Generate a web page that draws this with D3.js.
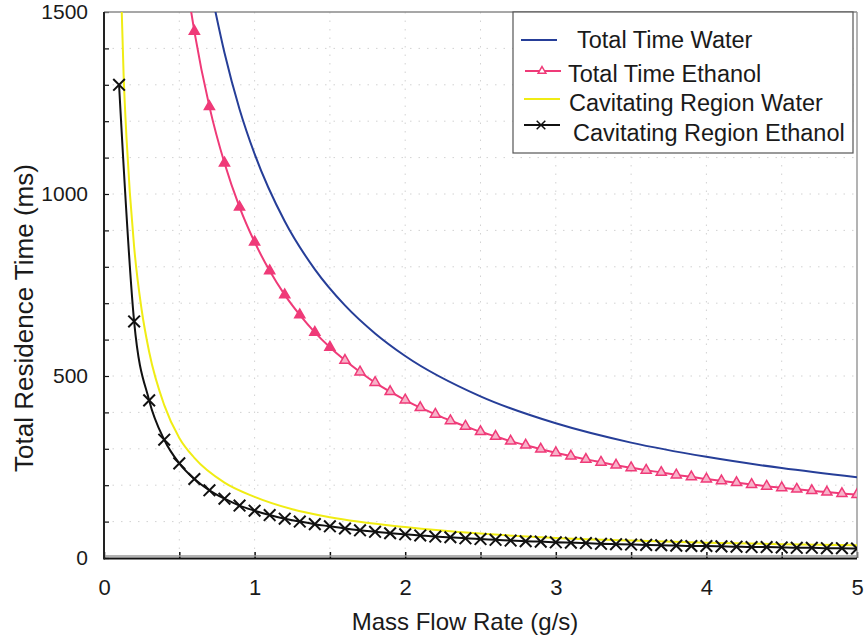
<!DOCTYPE html>
<html lang="en">
	<head>
		<meta charset="UTF-8" />
		<title>Total Residence Time</title>
		<style>
			body { margin: 0; background: #fff; }
			svg text { font-family: 'Liberation Sans', Arial, sans-serif; fill: #1a1a1a; }
		</style>
	</head>
	<body>
		<div id="chart"></div>
		<script src="https://cdnjs.cloudflare.com/ajax/libs/d3/7.8.5/d3.min.js"></script>
		<script>
			// values
			var totalWaterX = [0.72, 0.8, 0.9, 1, 1.2, 1.4, 1.6, 1.8, 2, 2.5, 3, 3.5, 4, 4.5, 5];
			var totalWaterMs = [1540, 1388, 1233, 1110, 925, 793, 694, 617, 555, 444, 370, 317, 278, 247, 222];

			// first point is where the curve leaves the top of the frame (no marker there)
			var totalEthanolX = [0.57, 0.6, 0.7, 0.8, 0.9, 1.0, 1.1, 1.2, 1.3, 1.4, 1.5, 1.6, 1.7, 1.8, 1.9, 2.0,
				2.1, 2.2, 2.3, 2.4, 2.5, 2.6, 2.7, 2.8, 2.9, 3.0, 3.1, 3.2, 3.3, 3.4, 3.5, 3.6, 3.7, 3.8, 3.9, 4.0,
				4.1, 4.2, 4.3, 4.4, 4.5, 4.6, 4.7, 4.8, 4.9, 5.0];
			var totalEthanolMs = [1523, 1447, 1240, 1085, 964, 868, 789, 723, 668, 620, 579, 543, 511, 482, 457, 434,
				413, 395, 377, 362, 347, 334, 321, 310, 299, 289, 280, 271, 263, 255, 248, 241, 235, 228, 223, 217,
				212, 207, 202, 197, 193, 189, 185, 181, 177, 174];

			var cavWaterX = [0.115, 0.13, 0.15, 0.2, 0.25, 0.3, 0.4, 0.5, 0.6, 0.8, 1, 1.25, 1.5, 2, 2.5, 3, 3.5, 4, 4.5, 5];
			var cavWaterMs = [1540, 1330, 1150, 855, 682, 566, 420, 330, 275, 207, 168, 134, 112, 85, 67, 55, 48, 42, 38, 35];

			var cavEthanolX = [0.1, 0.2, 0.3, 0.4, 0.5, 0.6, 0.7, 0.8, 0.9, 1.0, 1.1, 1.2, 1.3, 1.4, 1.5, 1.6, 1.7,
				1.8, 1.9, 2.0, 2.1, 2.2, 2.3, 2.4, 2.5, 2.6, 2.7, 2.8, 2.9, 3.0, 3.1, 3.2, 3.3, 3.4, 3.5, 3.6, 3.7,
				3.8, 3.9, 4.0, 4.1, 4.2, 4.3, 4.4, 4.5, 4.6, 4.7, 4.8, 4.9, 5.0];
			var cavEthanolMs = [1300, 650, 433, 325, 260, 217, 186, 163, 144, 130, 118, 108, 100, 93, 87, 81, 76,
				72, 68, 65, 62, 59, 57, 54, 52, 50, 48, 46, 45, 43, 42, 41, 39, 38, 37, 36, 35,
				34, 33, 33, 32, 31, 30, 30, 29, 28, 28, 27, 27, 26];

			var seriesNames = ['Total Time Water', 'Total Time Ethanol', 'Cavitating Region Water', 'Cavitating Region Ethanol'];

			var xTicks = [0, 0.5, 1, 1.5, 2, 2.5, 3, 3.5, 4, 4.5, 5];
			var xTickLabels = ['0', '', '1', '', '2', '', '3', '', '4', '', '5'];
			var yTicks = [0, 100, 200, 300, 400, 500, 600, 700, 800, 900, 1000, 1100, 1200, 1300, 1400, 1500];
			var yTickLabels = ['0', '', '', '', '', '500', '', '', '', '', '1000', '', '', '', '', '1500'];

			var width = 864;
			var height = 641;
			var plotLeft = 104, plotRight = 857, plotTop = 12, plotBottom = 558;

			var blue = '#263e98';
			var pink = '#ef3a78';
			var yellow = '#f0ec14';

			var svg = d3
				.select('#chart')
				.append('svg')
				.attr('width', width)
				.attr('height', height);

			var x = d3.scaleLinear().domain([0, 5]).range([plotLeft, plotRight]);
			var y = d3.scaleLinear().domain([0, 1500]).range([plotBottom, plotTop]);

			function pairs(xs, ys) {
				return xs.map(function (v, i) {
					return [v, ys[i]];
				});
			}

			svg.append('clipPath')
				.attr('id', 'plot')
				.append('rect')
				.attr('x', plotLeft)
				.attr('y', plotTop)
				.attr('width', plotRight - plotLeft)
				.attr('height', plotBottom - plotTop);

			// faint dotted grid
			svg.append('g')
				.selectAll('line')
				.data(yTicks.slice(1, -1))
				.enter()
				.append('line')
				.attr('x1', plotLeft)
				.attr('x2', plotRight)
				.attr('y1', function (d) { return y(d); })
				.attr('y2', function (d) { return y(d); })
				.attr('stroke', '#d2d2d2')
				.attr('stroke-dasharray', '1.5,7');
			svg.append('g')
				.selectAll('line')
				.data(xTicks.slice(1, -1))
				.enter()
				.append('line')
				.attr('y1', plotTop)
				.attr('y2', plotBottom)
				.attr('x1', function (d) { return x(d); })
				.attr('x2', function (d) { return x(d); })
				.attr('stroke', '#d2d2d2')
				.attr('stroke-dasharray', '1.5,7');

			// axes, ticks pointing into the plot
			var xAxis = d3
				.axisBottom(x)
				.tickValues(xTicks)
				.tickSizeInner(-6)
				.tickSizeOuter(0)
				.tickPadding(21)
				.tickFormat(function (d, i) { return xTickLabels[i]; });
			var gx = svg.append('g')
				.attr('transform', 'translate(0,' + plotBottom + ')')
				.call(xAxis);
			gx.select('.domain').remove();
			gx.selectAll('line').attr('stroke', '#111').attr('stroke-width', 1.5);
			gx.selectAll('text').style('font-size', '22px').attr('fill', '#1a1a1a');

			var yAxis = d3
				.axisLeft(y)
				.tickValues(yTicks)
				.tickSizeInner(-5)
				.tickSizeOuter(0)
				.tickPadding(16)
				.tickFormat(function (d, i) { return yTickLabels[i]; });
			var gy = svg.append('g')
				.attr('transform', 'translate(' + plotLeft + ',0)')
				.call(yAxis);
			gy.select('.domain').remove();
			gy.selectAll('line').attr('stroke', '#111').attr('stroke-width', 1.2);
			gy.selectAll('text').style('font-size', '21px').attr('fill', '#1a1a1a');

			// frame
			svg.append('line').attr('x1', plotLeft).attr('x2', plotRight).attr('y1', plotTop).attr('y2', plotTop)
				.attr('stroke', '#8a8a8a').attr('stroke-width', 1.5);
			svg.append('line').attr('x1', plotRight).attr('x2', plotRight).attr('y1', plotTop).attr('y2', plotBottom)
				.attr('stroke', '#9a9a9a').attr('stroke-width', 1.5);
			svg.append('line').attr('x1', plotLeft).attr('x2', plotRight).attr('y1', plotBottom - 2).attr('y2', plotBottom - 2)
				.attr('stroke', '#999').attr('stroke-width', 1.5);
			svg.append('line').attr('x1', plotLeft).attr('x2', plotRight).attr('y1', plotBottom + 0.5).attr('y2', plotBottom + 0.5)
				.attr('stroke', '#111').attr('stroke-width', 2);
			svg.append('line').attr('x1', plotLeft).attr('x2', plotLeft).attr('y1', plotTop).attr('y2', plotBottom + 1.5)
				.attr('stroke', '#222').attr('stroke-width', 2);

			// curves
			var line = d3
				.line()
				.x(function (d) { return x(d[0]); })
				.y(function (d) { return y(d[1]); })
				.curve(d3.curveMonotoneX);

			var plot = svg.append('g').attr('clip-path', 'url(#plot)');

			plot.append('path')
				.attr('d', line(pairs(cavWaterX, cavWaterMs)))
				.attr('fill', 'none')
				.attr('stroke', yellow)
				.attr('stroke-width', 2);
			plot.append('path')
				.attr('d', line(pairs(totalWaterX, totalWaterMs)))
				.attr('fill', 'none')
				.attr('stroke', blue)
				.attr('stroke-width', 2);
			plot.append('path')
				.attr('d', line(pairs(totalEthanolX, totalEthanolMs)))
				.attr('fill', 'none')
				.attr('stroke', pink)
				.attr('stroke-width', 2);
			plot.append('path')
				.attr('d', line(pairs(cavEthanolX, cavEthanolMs)))
				.attr('fill', 'none')
				.attr('stroke', '#111')
				.attr('stroke-width', 2);

			var tri = d3.symbol().type(d3.symbolTriangle).size(44);
			plot.selectAll('.tri')
				.data(pairs(totalEthanolX, totalEthanolMs).slice(1))
				.enter()
				.append('path')
				.attr('class', 'tri')
				.attr('d', tri)
				.attr('transform', function (d) {
					return 'translate(' + x(d[0]) + ',' + y(d[1]) + ')';
				})
				.attr('fill', function (d) { return d[0] < 1.6 ? pink : '#f7b3c9'; })
				.attr('stroke', pink)
				.attr('stroke-width', 1.5);

			var cross = d3.symbol().type(d3.symbolX).size(90);
			plot.selectAll('.cross')
				.data(pairs(cavEthanolX, cavEthanolMs))
				.enter()
				.append('path')
				.attr('class', 'cross')
				.attr('d', cross)
				.attr('transform', function (d) {
					return 'translate(' + x(d[0]) + ',' + y(d[1]) + ')';
				})
				.attr('fill', 'none')
				.attr('stroke', '#111')
				.attr('stroke-width', 2);

			// legend (rows sit a little unevenly, as in the original)
			svg.append('rect')
				.attr('x', 513)
				.attr('y', plotTop)
				.attr('width', 340)
				.attr('height', 141)
				.attr('fill', '#fff')
				.attr('stroke', '#555')
				.attr('stroke-width', 1.2);

			var rows = [
				{ color: blue, mark: null, lx: 521, ly: 40, tx: 577, ty: 48 },
				{ color: pink, mark: 'tri', lx: 525, ly: 71, tx: 568, ty: 82 },
				{ color: yellow, mark: null, lx: 524, ly: 99, tx: 569, ty: 111 },
				{ color: '#111', mark: 'cross', lx: 524, ly: 125, tx: 573, ty: 141 }
			];
			var legend = svg
				.selectAll('.legend')
				.data(rows)
				.enter()
				.append('g')
				.attr('class', 'legend');
			legend
				.append('line')
				.attr('x1', function (d) { return d.lx; })
				.attr('x2', function (d) { return d.lx + 36; })
				.attr('y1', function (d) { return d.ly; })
				.attr('y2', function (d) { return d.ly; })
				.attr('stroke', function (d) { return d.color; })
				.attr('stroke-width', 2);
			legend
				.filter(function (d) { return d.mark; })
				.append('path')
				.attr('d', function (d) {
					return d.mark === 'tri' ? d3.symbol().type(d3.symbolTriangle).size(26)() : d3.symbol().type(d3.symbolX).size(50)();
				})
				.attr('transform', function (d) {
					return 'translate(' + (d.lx + 17) + ',' + d.ly + ')';
				})
				.attr('fill', function (d) { return d.mark === 'tri' ? '#fff' : 'none'; })
				.attr('stroke', function (d) { return d.color; })
				.attr('stroke-width', 1.5);
			legend
				.append('text')
				.attr('x', function (d) { return d.tx; })
				.attr('y', function (d) { return d.ty; })
				.style('font-size', '23.5px')
				.text(function (d, i) {
					return seriesNames[i];
				});

			// axis titles
			svg.append('text')
				.attr('x', 465)
				.attr('y', 630)
				.attr('text-anchor', 'middle')
				.style('font-size', '24px')
				.text('Mass Flow Rate (g/s)');
			svg.append('text')
				.attr('transform', 'translate(33,318) rotate(-90)')
				.attr('text-anchor', 'middle')
				.style('font-size', '26px')
				.text('Total Residence Time (ms)');
		</script>
	</body>
</html>
